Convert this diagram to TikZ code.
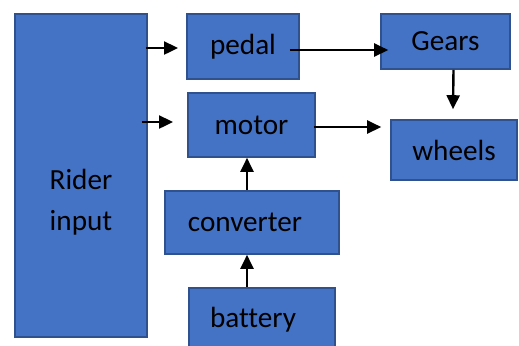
\documentclass[tikz,border=0pt]{standalone}
\usepackage{fontspec}
\setmainfont{Carlito}[Ligatures=NoCommon]
\usetikzlibrary{arrows.meta}
\definecolor{boxfill}{HTML}{4472C4}
\definecolor{boxline}{HTML}{2F528F}

\begin{document}
\begin{tikzpicture}[x=0.5pt,y=-0.5pt,
    box/.style={draw=boxline,fill=boxfill,line width=0.8pt,inner sep=0pt,
      font=\fontsize{14.6}{17}\selectfont,text=black},
    arr/.style={line width=1.2pt,-{Triangle[length=7pt,width=6.5pt]}}]
  \useasboundingbox (0,0) rectangle (519,345);
  \clip (0,0) rectangle (519,345);

  % blocks
  \node[box,minimum width=66pt,minimum height=161.5pt] (rider) at (81,175.5) {};
  \node[font=\fontsize{14.6}{20.5}\selectfont,align=center] (ridertxt) at (81,202) {Rider\\input};
  \node[box,minimum width=56pt,minimum height=32.5pt] (pedal) at (243,46.5) {pedal};
  \node[box,minimum width=64.5pt,minimum height=27.5pt] (gears) at (445.5,41.5) {Gears};
  \node[box,minimum width=63.5pt,minimum height=32pt] (motor) at (251.5,125) {motor};
  \node[box,minimum width=63pt,minimum height=30pt] (wheels) at (454,150) {wheels};
  \node[box,minimum width=87pt,minimum height=31.5pt,
    label={[font=\fontsize{14.6}{17}\selectfont,xshift=-3.5pt,yshift=0.3pt]center:converter}] (conv) at (252,222.5) {};
  \node[box,minimum width=73pt,minimum height=32pt,
    label={[font=\fontsize{14.6}{17}\selectfont,xshift=-4.5pt]center:battery}] (battery) at (262,320) {};

  % free ends of the rider arrows
  \coordinate (in1) at (178,48);
  \coordinate (in2) at (173,122);

  % arrows
  \draw[arr] ([xshift=-1pt]rider.east |- in1) -- (in1);
  \draw[arr] ([xshift=-3pt]rider.east |- in2) -- (in2);
  \draw[arr] ([shift={(-10,3.5)}]pedal.east) -- ([shift={(8,8.5)}]gears.west);
  \draw[arr] ([shift={(8,0)}]gears.south) -- ([shift={(-1,-10)}]wheels.north);
  \draw[arr] ([shift={(-2,2)}]motor.east) -- ([shift={(-9,-23)}]wheels.west);
  \draw[arr] ([shift={(-5,0)}]conv.north) -- ([shift={(-4.5,0)}]motor.south);
  \draw[arr] ([shift={(-15,0)}]battery.north) -- ([shift={(-5,0)}]conv.south);
\end{tikzpicture}
\end{document}
